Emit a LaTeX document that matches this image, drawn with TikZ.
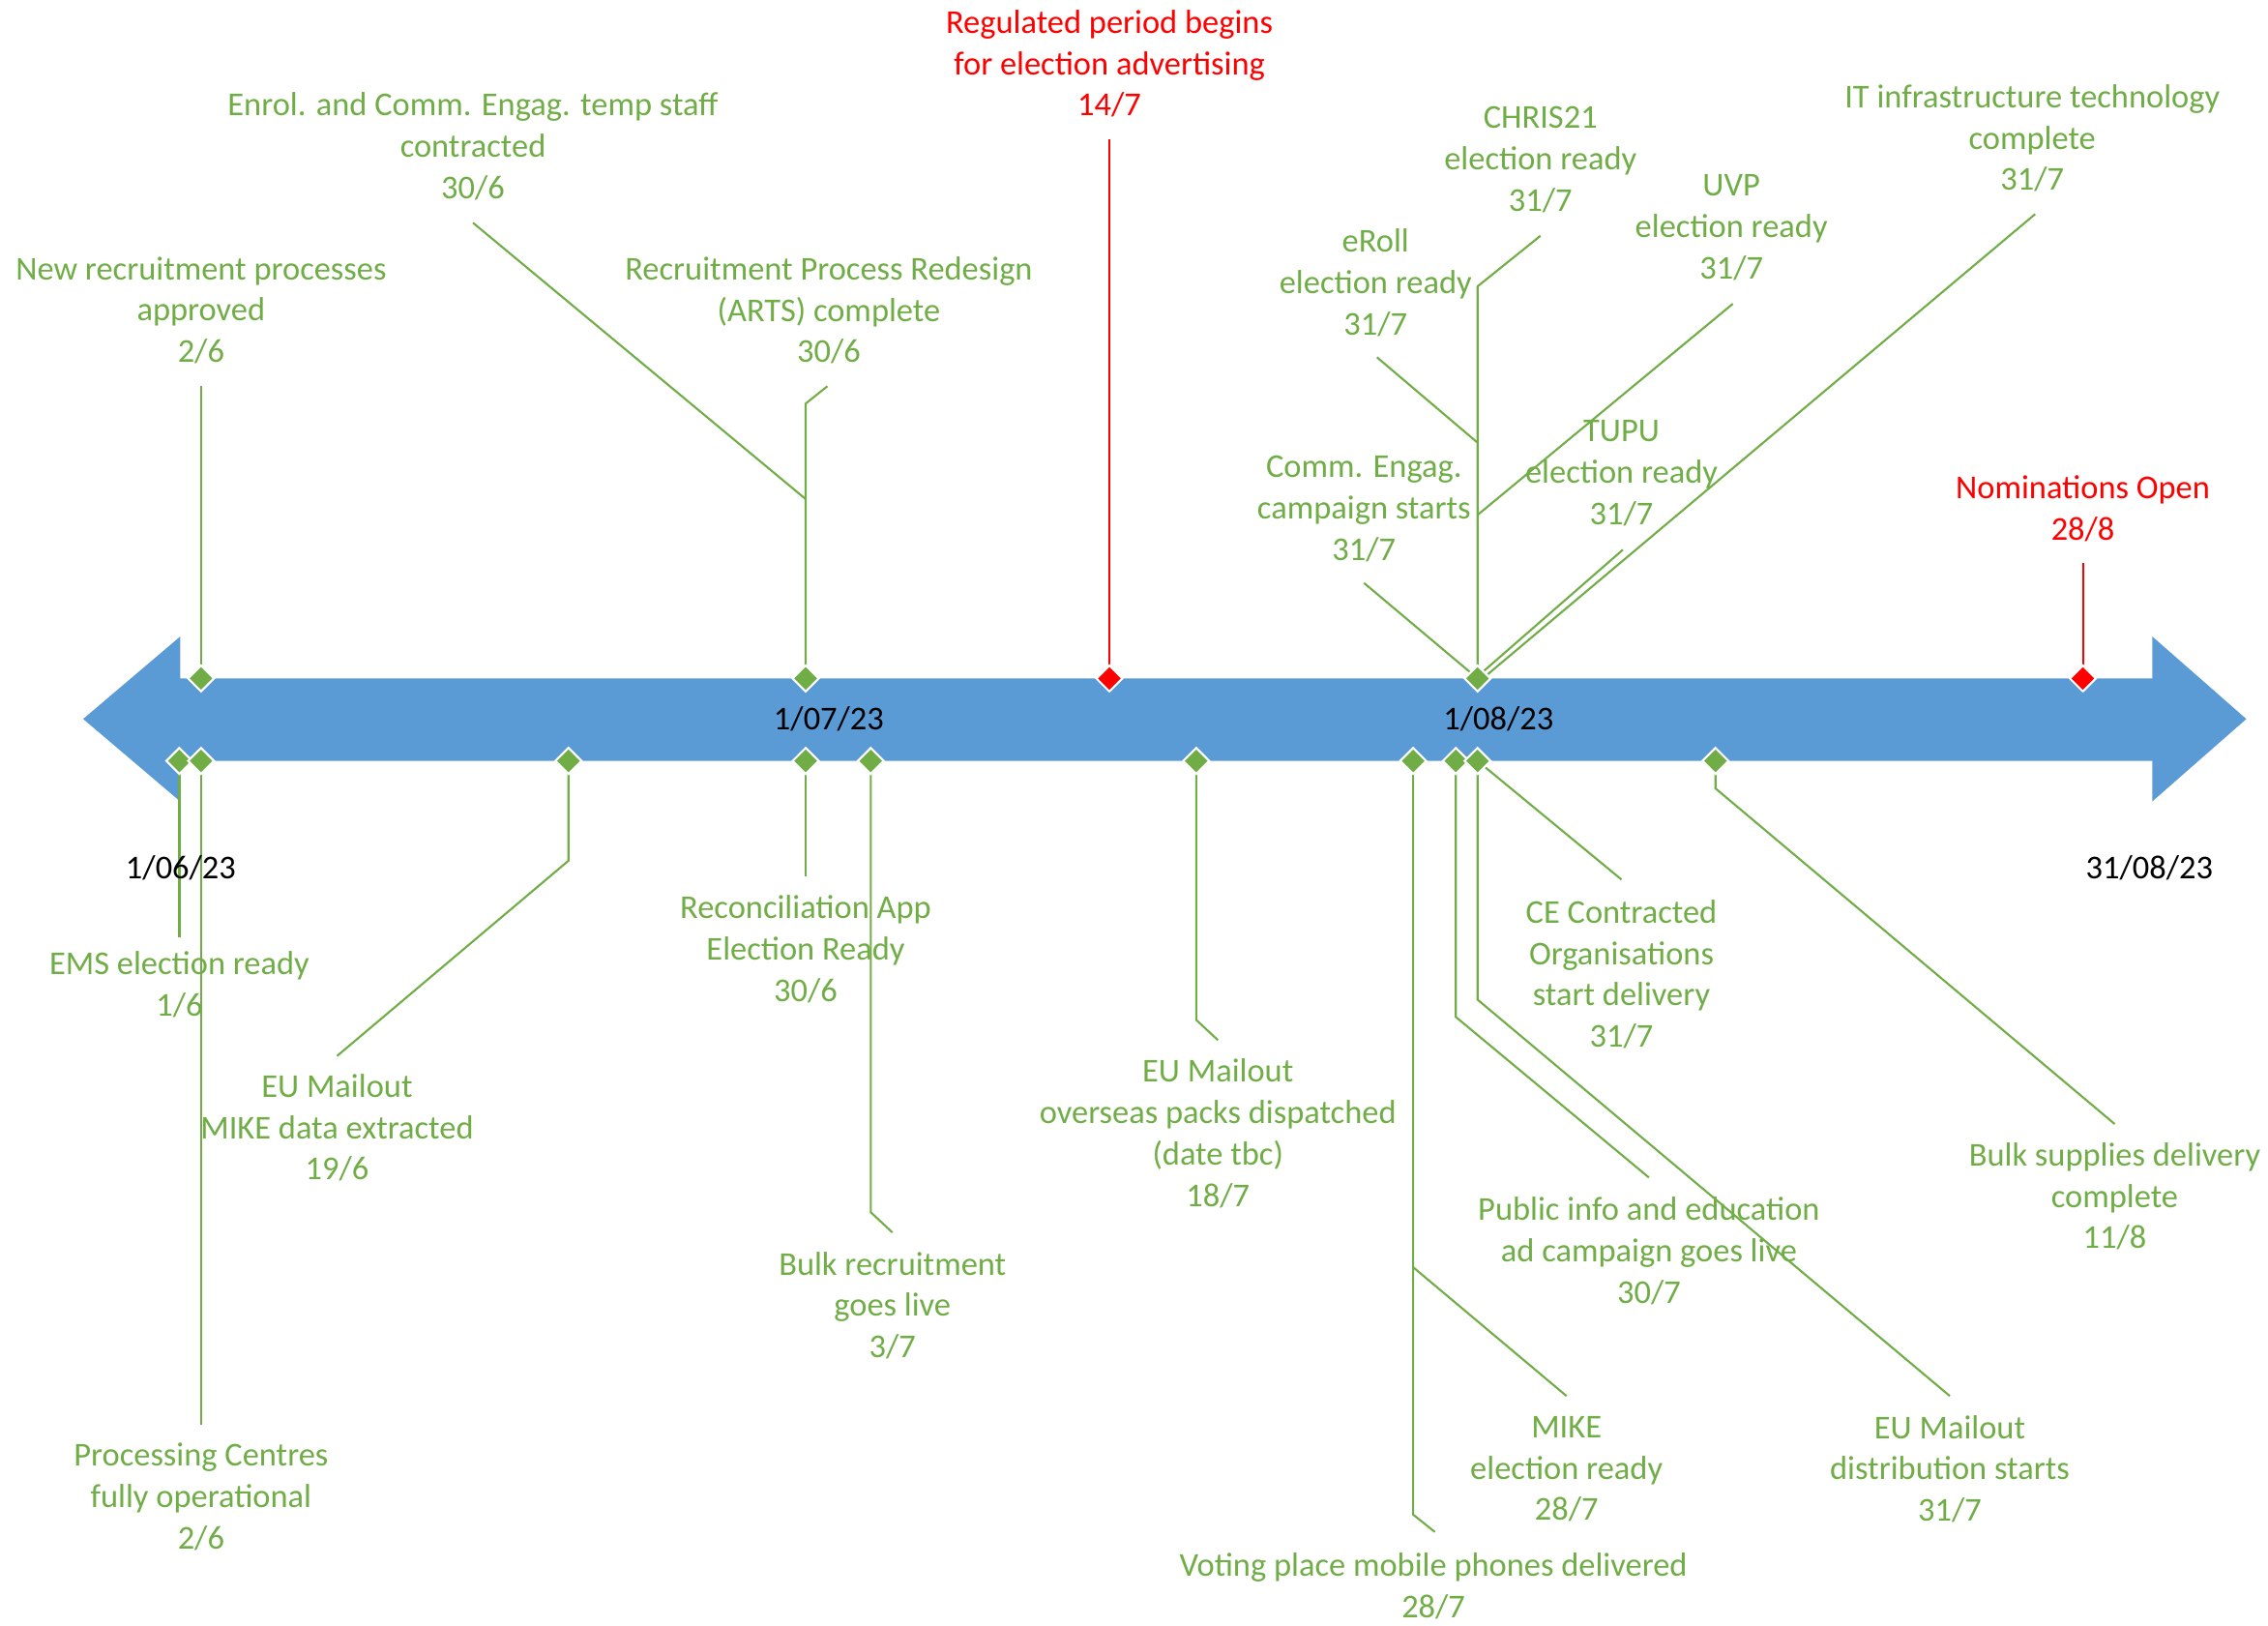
\documentclass[tikz,border=0pt]{standalone}
\usepackage{fontspec}
\setmainfont{Carlito}
\usetikzlibrary{calc}
\definecolor{tlgreen}{HTML}{70AD47}
\definecolor{tlblue}{HTML}{5B9BD5}
\definecolor{tlred}{HTML}{FF0000}
\pgfdeclarelayer{arrowlayer}
\pgfdeclarelayer{linelayer}
\pgfsetlayers{arrowlayer,linelayer,main}
\tikzset{
  lbl/.style={text=tlgreen, align=center, inner sep=0pt, font=\fontsize{9.8pt}{12.2pt}\selectfont},
  rlbl/.style={lbl, text=tlred},
  dlbl/.style={lbl, text=black},
  gd/.style={shape=rectangle, rotate=45, fill=tlgreen, draw=white, line width=0.6pt, inner sep=0pt, minimum width=0.19cm, minimum height=0.19cm},
  rd/.style={gd, fill=tlred},
  ln/.style={draw=tlgreen, line width=0.6pt},
  rln/.style={draw=tlred, line width=0.6pt},
}
\begin{document}
\begin{tikzpicture}[x=0.014955cm, y=-0.014955cm]
\useasboundingbox (0,0) rectangle (1568,1124);

% ---------- milestone diamonds ----------
\node[gd] (d1) at (139,469) {};
\node[gd] (d2) at (557,469) {};
\node[rd] (d3) at (767,469) {};
\node[gd] (d4) at (1021.5,469) {};
\node[rd] (d5) at (1440,469) {};
\node[gd] (d6) at (124,526) {};
\node[gd] (d7) at (139,526) {};
\node[gd] (d8) at (393,526) {};
\node[gd] (d9) at (557,526) {};
\node[gd] (d10) at (602,526) {};
\node[gd] (d11) at (827,526) {};
\node[gd] (d12) at (977,526) {};
\node[gd] (d13) at (1006.5,526) {};
\node[gd] (d14) at (1021.5,526) {};
\node[gd] (d15) at (1186,526) {};

% ---------- label nodes ----------
\node[lbl] (Lnrp) at (139,214.5) {New recruitment processes\\approved\\2/6};
\node[lbl] (Lenr) at (327,101) {Enrol. and Comm. Engag. temp staff\\contracted\\30/6};
\node[lbl] (Lrpr) at (573,214.5) {Recruitment Process Redesign\\(ARTS) complete\\30/6};
\node[rlbl] (Lreg) at (767,44) {Regulated period begins\\for election advertising\\14/7};
\node[lbl] (Lchr) at (1065,110.5) {CHRIS21\\election ready\\31/7};
\node[lbl] (Lero) at (951,195.5) {eRoll\\election ready\\31/7};
\node[lbl] (Luvp) at (1197,157.5) {UVP\\election ready\\31/7};
\node[lbl] (Lcom) at (943,351.5) {Comm. Engag.\\campaign starts\\31/7};
\node[lbl] (Ltup) at (1121,327) {TUPU\\election ready\\31/7};
\node[lbl] (Litc) at (1405,95.5) {IT infrastructure technology\\complete\\31/7};
\node[rlbl] (Lnom) at (1440,351.5) {Nominations Open\\28/8};

\node[lbl] (Lems) at (124,680.5) {EMS election ready\\1/6};
\node[lbl] (Lpro) at (139,1034.5) {Processing Centres\\fully operational\\2/6};
\node[lbl] (Lmde) at (233,779.5) {EU Mailout\\MIKE data extracted\\19/6};
\node[lbl] (Lrec) at (557,656) {Reconciliation App\\Election Ready\\30/6};
\node[lbl] (Lbrl) at (617,902.5) {Bulk recruitment\\goes live\\3/7};
\node[lbl] (Lovs) at (842,783.5) {EU Mailout\\overseas packs dispatched\\(date tbc)\\18/7};
\node[lbl] (Lvpm) at (991,1096.5) {Voting place mobile phones delivered\\28/7};
\node[lbl] (Lmik) at (1083,1015.5) {MIKE\\election ready\\28/7};
\node[lbl] (Lpub) at (1140,865) {Public info and education\\ad campaign goes live\\30/7};
\node[lbl] (Ldis) at (1348,1015.5) {EU Mailout\\distribution starts\\31/7};
\node[lbl] (Lcec) at (1121,673.5) {CE Contracted\\Organisations\\start delivery\\31/7};
\node[lbl] (Lbsd) at (1462,827) {Bulk supplies delivery\\complete\\11/8};

\node[dlbl] (T1) at (125,600) {1/06/23};
\node[dlbl] (T2) at (573,497) {1/07/23};
\node[dlbl] (T3) at (1036,497) {1/08/23};
\node[dlbl] (T4) at (1486,600) {31/08/23};

% ---------- connector end / bend points ----------
\coordinate (cnrp) at (139,267);
\coordinate (cenr) at (327,154);
\coordinate (jenr) at (557,345);
\coordinate (brpr) at (557,279);
\coordinate (crpr) at (572,267);
\coordinate (creg) at (767,96);
\coordinate (bchr) at (1021.5,198);
\coordinate (cchr) at (1065,163);
\coordinate (jero) at (1021.5,306);
\coordinate (cero) at (952,247);
\coordinate (juvp) at (1021.5,356);
\coordinate (cuvp) at (1198,210);
\coordinate (ccom) at (943,403);
\coordinate (ctup) at (1122,380);
\coordinate (citc) at (1407,148);
\coordinate (etup) at (1024.5,465);
\coordinate (eitc) at (1027.5,467);
\coordinate (cnom) at (1440,389);

\coordinate (cems) at (124,648);
\coordinate (cpro) at (139,985);
\coordinate (bmde) at (393,595);
\coordinate (cmde) at (233,730);
\coordinate (crec) at (557,606);
\coordinate (bbrl) at (602,838);
\coordinate (cbrl) at (617,852);
\coordinate (bovs) at (827,705);
\coordinate (covs) at (842,719);
\coordinate (bvpm) at (977,1047);
\coordinate (cvpm) at (992,1059);
\coordinate (jmik) at (977,876);
\coordinate (cmik) at (1083,965);
\coordinate (bpub) at (1006.5,703);
\coordinate (cpub) at (1140,814);
\coordinate (bdis) at (1021.5,691);
\coordinate (cdis) at (1348,965);
\coordinate (ccec) at (1121,608);
\coordinate (bbsd) at (1186,545);
\coordinate (cbsd) at (1462,777);

% ---------- timeline arrow (bottom layer) ----------
\begin{pgfonlayer}{arrowlayer}
\fill[tlblue] (57.5,497) -- (124.6,440) -- (124.6,469) -- (1488,469) -- (1488,440) -- (1553,497)
  -- (1488,554) -- (1488,526) -- (124.6,526) -- (124.6,554) -- cycle;
\end{pgfonlayer}

% ---------- connectors (under the diamonds) ----------
\begin{pgfonlayer}{linelayer}
\draw[ln] (d1.center) -- (cnrp);
\draw[ln] (d2.center) -- (brpr) -- (crpr);
\draw[ln] (jenr) -- (cenr);
\draw[rln] (d3.center) -- (creg);
\draw[ln] (d4.center) -- (bchr) -- (cchr);
\draw[ln] (jero) -- (cero);
\draw[ln] (juvp) -- (cuvp);
\draw[ln] (d4.center) -- (ccom);
\draw[ln] (etup) -- (ctup);
\draw[ln] (eitc) -- (citc);
\draw[rln] (d5.center) -- (cnom);

\draw[ln] (d6.center) -- (cems);
\draw[ln] (d7.center) -- (cpro);
\draw[ln] (d8.center) -- (bmde) -- (cmde);
\draw[ln] (d9.center) -- (crec);
\draw[ln] (d10.center) -- (bbrl) -- (cbrl);
\draw[ln] (d11.center) -- (bovs) -- (covs);
\draw[ln] (d12.center) -- (bvpm) -- (cvpm);
\draw[ln] (jmik) -- (cmik);
\draw[ln] (d13.center) -- (bpub) -- (cpub);
\draw[ln] (d14.center) -- (bdis) -- (cdis);
\draw[ln] (d14.center) -- (ccec);
\draw[ln] (d15.center) -- (bbsd) -- (cbsd);
\end{pgfonlayer}
\end{tikzpicture}
\end{document}
